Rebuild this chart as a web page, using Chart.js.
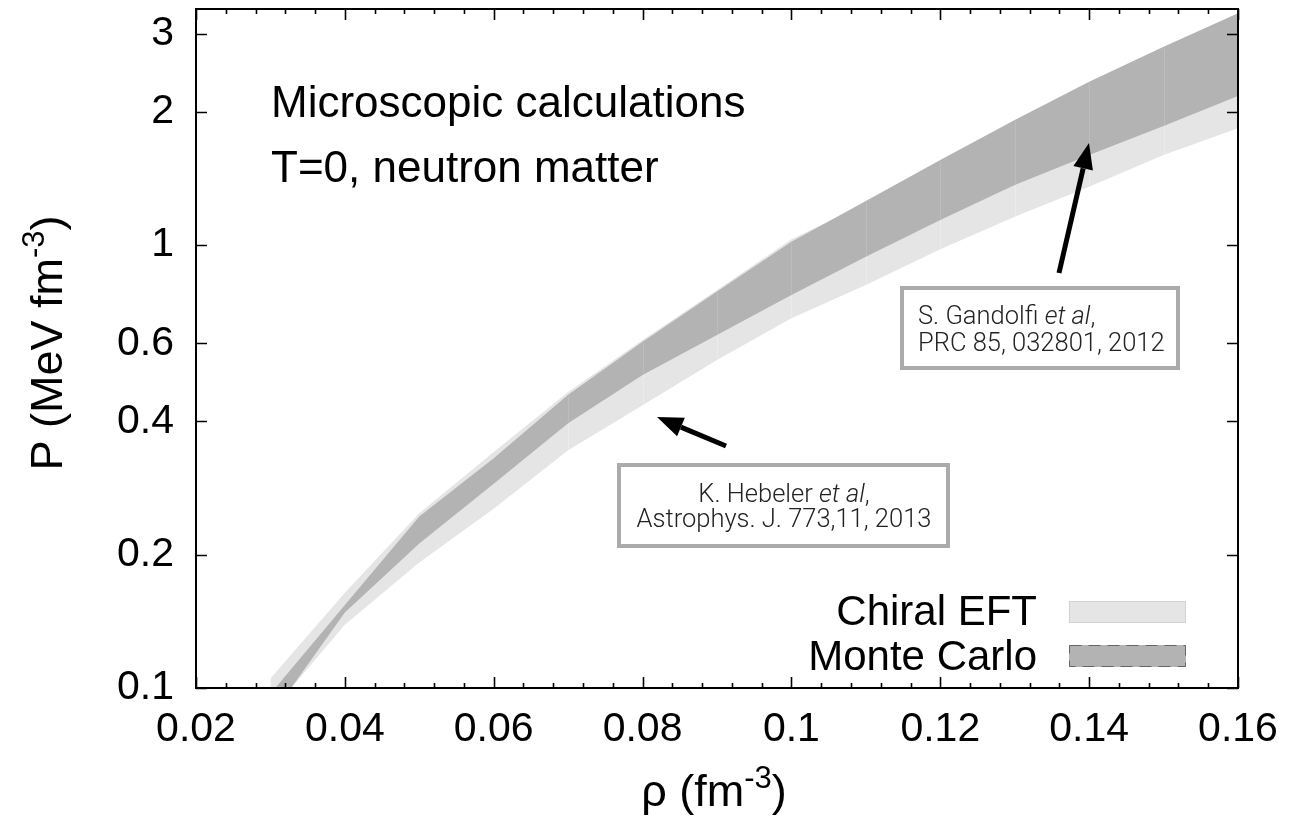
<!DOCTYPE html>
<html>
<head>
<meta charset="utf-8">
<script src="https://cdn.jsdelivr.net/npm/chart.js@4.4.1/dist/chart.umd.min.js"></script>
<style>
  html, body { margin: 0; padding: 0; background: #fff; }
  #wrap { width: 1291px; height: 828px; }
</style>
</head>
<body>
<div id="wrap"><canvas id="eosChart" width="1291" height="828"></canvas></div>
<script>
// neutron matter pressure bands, P in MeV fm^-3 vs density in fm^-3
const densities = [0.03, 0.04, 0.05, 0.06, 0.07, 0.08, 0.09, 0.10, 0.11, 0.12, 0.13, 0.14, 0.15, 0.16];
const chiralUpper = [0.105, 0.164, 0.248, 0.341, 0.466, 0.610, 0.791, 1.030, 1.24, 1.53, 1.88, 2.29, 2.75, 3.27];
const chiralLower = [0.088, 0.139, 0.192, 0.254, 0.344, 0.435, 0.550, 0.683, 0.812, 0.978, 1.158, 1.354, 1.597, 1.834];
const mcUpper = [0.097, 0.154, 0.244, 0.330, 0.459, 0.605, 0.785, 1.017, 1.257, 1.556, 1.915, 2.337, 2.804, 3.336];
const mcLower = [0.086, 0.148, 0.212, 0.289, 0.396, 0.509, 0.626, 0.771, 0.941, 1.139, 1.366, 1.597, 1.856, 2.170];

const yTicks = [0.1, 0.2, 0.4, 0.6, 1, 2, 3];
const yTickLabels = ['0.1', '0.2', '0.4', '0.6', '1', '2', '3'];
const xRange = [0.02, 0.16];
const yRange = [0.1, 3.41];

const LIGHT = '#e5e5e5';
const DARK = '#b3b3b3';
const FONT = '"Liberation Sans", Arial, Helvetica, sans-serif';

Chart.defaults.font.family = FONT;
Chart.defaults.color = '#000';

function toPoints(ys) {
  return densities.map((x, i) => ({ x: x, y: ys[i] }));
}

function band(label, ys, color, fill) {
  return {
    label: label,
    data: toPoints(ys),
    borderWidth: 0,
    borderColor: color,
    backgroundColor: color,
    pointRadius: 0,
    tension: 0,
    fill: fill
  };
}

// faint seams between the band segments, like the original render
const seams = {
  id: 'seams',
  afterDatasetsDraw(chart) {
    const { ctx, chartArea: a, scales: { x, y } } = chart;
    ctx.save();
    ctx.beginPath();
    ctx.rect(a.left, a.top, a.right - a.left, a.bottom - a.top);
    ctx.clip();
    ctx.lineWidth = 1;
    const pairs = [[chiralLower, mcLower, '#ececec'], [mcLower, mcUpper, '#bdbdbd']];
    densities.forEach((d, i) => {
      if (i === 0 || i === densities.length - 1 || d < 0.065) return;
      const px = Math.round(x.getPixelForValue(d)) + 0.5;
      pairs.forEach(([lo, hi, c]) => {
        ctx.strokeStyle = c;
        ctx.beginPath();
        ctx.moveTo(px, y.getPixelForValue(lo[i]) - 1);
        ctx.lineTo(px, y.getPixelForValue(hi[i]) + 1);
        ctx.stroke();
      });
    });
    ctx.restore();
  }
};

// frame with inward ticks on all four sides (gnuplot style)
const frameTicks = {
  id: 'frameTicks',
  afterDatasetsDraw(chart) {
    const { ctx, chartArea: a, scales: { x, y } } = chart;
    ctx.save();
    ctx.strokeStyle = '#000';
    ctx.lineWidth = 1.6;
    ctx.beginPath();
    for (let i = 0; i <= 35; i++) {
      const px = Math.round(x.getPixelForValue(xRange[0] + i * 0.004)) + 0.5;
      const len = i % 5 === 0 ? 11 : 5;
      ctx.moveTo(px, a.bottom); ctx.lineTo(px, a.bottom - len);
      ctx.moveTo(px, a.top); ctx.lineTo(px, a.top + len);
    }
    yTicks.forEach(v => {
      const py = Math.round(y.getPixelForValue(v)) + 0.5;
      ctx.moveTo(a.left, py); ctx.lineTo(a.left + 11, py);
      ctx.moveTo(a.right, py); ctx.lineTo(a.right - 11, py);
    });
    ctx.stroke();
    ctx.lineWidth = 2;
    ctx.strokeRect(a.left, a.top, a.right - a.left, a.bottom - a.top);
    ctx.restore();
  }
};

// draw pieces of text one after another, some italic or superscript
function drawRuns(ctx, runs, x, y, align) {
  let total = 0;
  runs.forEach(r => { ctx.font = r.font; total += ctx.measureText(r.text).width; });
  let cx = align === 'center' ? x - total / 2 : x;
  runs.forEach(r => {
    ctx.font = r.font;
    ctx.fillText(r.text, cx, y - (r.rise || 0));
    cx += ctx.measureText(r.text).width;
  });
}

function arrow(ctx, x0, y0, x1, y1) {
  const ang = Math.atan2(y1 - y0, x1 - x0);
  const head = 26, half = 10;
  const bx = x1 - head * Math.cos(ang), by = y1 - head * Math.sin(ang);
  ctx.strokeStyle = '#000';
  ctx.fillStyle = '#000';
  ctx.lineWidth = 5;
  ctx.beginPath();
  ctx.moveTo(x0, y0);
  ctx.lineTo(bx, by);
  ctx.stroke();
  ctx.beginPath();
  ctx.moveTo(x1, y1);
  ctx.lineTo(bx + half * Math.sin(ang), by - half * Math.cos(ang));
  ctx.lineTo(bx - half * Math.sin(ang), by + half * Math.cos(ang));
  ctx.closePath();
  ctx.fill();
}

const labelsPlugin = {
  id: 'labels',
  afterDraw(chart) {
    const { ctx } = chart;
    ctx.save();
    ctx.fillStyle = '#000';
    ctx.textBaseline = 'alphabetic';
    ctx.textAlign = 'left';

    // header text
    ctx.font = '44px ' + FONT;
    ctx.fillText('Microscopic calculations', 271, 117);
    ctx.fillText('T=0, neutron matter', 271, 182);

    // axis titles
    const big = '45px ' + FONT;
    const sup = '31px ' + FONT;
    drawRuns(ctx, [
      { text: '\u03C1 (fm', font: big },
      { text: '-3', font: sup, rise: 18 },
      { text: ')', font: big }
    ], 714, 806, 'center');

    ctx.save();
    ctx.translate(62, 343);
    ctx.rotate(-Math.PI / 2);
    drawRuns(ctx, [
      { text: 'P (MeV fm', font: big },
      { text: '-3', font: sup, rise: 18 },
      { text: ')', font: big }
    ], 0, 0, 'center');
    ctx.restore();

    // legend
    ctx.font = '42px ' + FONT;
    ctx.textAlign = 'right';
    ctx.fillText('Chiral EFT', 1037, 625);
    ctx.fillText('Monte Carlo', 1037, 670);
    ctx.fillStyle = LIGHT;
    ctx.fillRect(1069, 601, 117, 22);
    ctx.strokeStyle = '#d2d2d2';
    ctx.lineWidth = 1;
    ctx.strokeRect(1069.5, 601.5, 116, 21);
    ctx.fillStyle = DARK;
    ctx.fillRect(1069, 645, 117, 22);
    ctx.strokeStyle = '#666';
    ctx.setLineDash([12, 7]);
    ctx.strokeRect(1069.5, 645.5, 116, 21);
    ctx.setLineDash([]);

    // reference boxes
    const small = '300 25.5px Roboto, ' + FONT;
    const smallIt = 'italic 300 25.5px Roboto, ' + FONT;
    ctx.textAlign = 'left';
    ctx.strokeStyle = '#a9acaa';
    ctx.lineWidth = 4;
    ctx.fillStyle = '#fff';
    ctx.fillRect(902, 288, 276, 80);
    ctx.strokeRect(902, 288, 276, 80);
    ctx.fillRect(619, 465, 329, 81);
    ctx.strokeRect(619, 465, 329, 81);

    ctx.fillStyle = '#222';
    drawRuns(ctx, [
      { text: 'S. Gandolfi ', font: small },
      { text: 'et al', font: smallIt },
      { text: ',', font: small }
    ], 918, 324, 'left');
    drawRuns(ctx, [{ text: 'PRC 85, 032801, 2012', font: small }], 918, 351, 'left');
    drawRuns(ctx, [
      { text: 'K. Hebeler ', font: small },
      { text: 'et al', font: smallIt },
      { text: ',', font: small }
    ], 784, 502, 'center');
    drawRuns(ctx, [{ text: 'Astrophys. J. 773,11, 2013', font: small }], 784, 527, 'center');

    // arrows
    arrow(ctx, 1059, 273, 1089, 143);
    arrow(ctx, 726, 446, 657, 417);
    ctx.restore();
  }
};

const ctx = document.getElementById('eosChart').getContext('2d');
new Chart(ctx, {
  type: 'line',
  data: {
    datasets: [
      // Monte Carlo first so it is painted on top
      band('Monte Carlo', mcUpper, DARK, '+1'),
      band('Monte Carlo lower', mcLower, DARK, false),
      band('Chiral EFT', chiralUpper, LIGHT, '+1'),
      band('Chiral EFT lower', chiralLower, LIGHT, false)
    ]
  },
  options: {
    responsive: false,
    animation: false,
    layout: { padding: { top: 9, right: 53, left: 0, bottom: 0 } },
    plugins: {
      legend: { display: false },
      tooltip: { enabled: false }
    },
    scales: {
      x: {
        type: 'linear',
        min: xRange[0],
        max: xRange[1],
        grid: { display: false, drawTicks: false },
        border: { display: false },
        ticks: {
          stepSize: 0.02,
          padding: 17,
          font: { size: 41 },
          color: '#000',
          callback: v => String(Number(v.toFixed(2)))
        },
        afterFit: s => {
          s.height = 140;
          s.paddingLeft = 0;
          s.paddingRight = 0;
        }
      },
      y: {
        type: 'logarithmic',
        min: yRange[0],
        max: yRange[1],
        grid: { display: false, drawTicks: false },
        border: { display: false },
        afterBuildTicks: s => { s.ticks = yTicks.map(v => ({ value: v })); },
        ticks: {
          padding: 22,
          font: { size: 41 },
          color: '#000',
          callback: (v, i) => yTickLabels[i]
        },
        afterFit: s => {
          s.width = 196;
          s.paddingTop = 0;
          s.paddingBottom = 0;
        }
      }
    }
  },
  plugins: [seams, frameTicks, labelsPlugin]
});
</script>
</body>
</html>
